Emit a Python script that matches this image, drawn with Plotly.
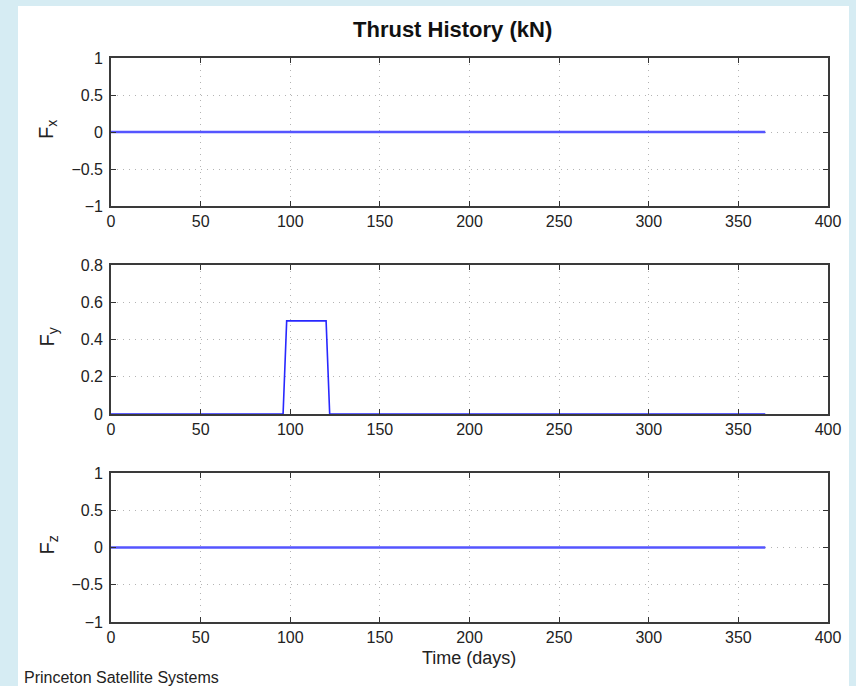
import plotly.graph_objects as go
from plotly.subplots import make_subplots

# ---- data ----
t_days = [0, 96, 98, 120, 122, 365]
fx = [0, 0, 0, 0, 0, 0]
fy = [0, 0, 0.5, 0.5, 0, 0]
fz = [0, 0, 0, 0, 0, 0]

x_ticks = [0, 50, 100, 150, 200, 250, 300, 350, 400]
y_ticks_xz = [-1, -0.5, 0, 0.5, 1]
y_text_xz = ["\u22121", "\u22120.5", "0", "0.5", "1"]
y_ticks_y = [0, 0.2, 0.4, 0.6, 0.8]
y_text_y = ["0", "0.2", "0.4", "0.6", "0.8"]

W, H = 856, 686
L, R, T, B = 111, 828, 58, 622

def py(p):
    return (B - p) / (B - T)

def px(p):
    return (p - L) / (R - L)

fig = make_subplots(rows=3, cols=1)

fig.add_trace(go.Scatter(x=t_days, y=fx, mode="lines",
                         line=dict(color="rgb(85,85,255)", width=2.5)), row=1, col=1)
fig.add_trace(go.Scatter(x=t_days, y=fy, mode="lines",
                         line=dict(color="rgb(40,40,255)", width=1.6)), row=2, col=1)
fig.add_trace(go.Scatter(x=t_days, y=fz, mode="lines",
                         line=dict(color="rgb(85,85,255)", width=2.5)), row=3, col=1)

font = "Liberation Sans, Arial, Helvetica, sans-serif"
domains = [(py(206), py(58)), (py(414), py(265)), (py(622), py(473))]
grid = dict(showgrid=True, gridcolor="#b4b4b4", griddash="1px,5px", gridwidth=1)
axstyle = dict(ticks="inside", ticklen=5, tickcolor="#333", mirror="ticks",
               showline=True, linecolor="#3a3a3a", linewidth=1.6, zeroline=False,
               tickfont=dict(size=16, color="#222", family=font))

for i in range(3):
    r = i + 1
    fig.update_xaxes(range=[0, 400], tickvals=x_ticks, ticktext=[str(v) for v in x_ticks],
                     **axstyle, **grid, row=r, col=1)
    if r == 2:
        fig.update_yaxes(range=[0, 0.8], tickvals=y_ticks_y, ticktext=y_text_y, row=r, col=1)
    else:
        fig.update_yaxes(range=[-1, 1], tickvals=y_ticks_xz, ticktext=y_text_xz, row=r, col=1)
    fig.update_yaxes(domain=list(domains[i]), ticklabelstandoff=3,
                     **axstyle, **grid, row=r, col=1)

labels = ["F<sub>x</sub>", "F<sub>y</sub>", "F<sub>z</sub>"]
centers = [(58 + 206) / 2, (265 + 414) / 2, (473 + 622) / 2]
for lab, c in zip(labels, centers):
    fig.add_annotation(text=lab, xref="paper", yref="paper", x=px(48), y=py(c - 2),
                       xanchor="center", yanchor="middle", textangle=-90, showarrow=False,
                       font=dict(size=20, color="#222", family=font))

fig.add_annotation(text="<b>Thrust History (kN)</b>", xref="paper", yref="paper",
                   x=px(452.5), y=py(29), xanchor="center", yanchor="middle", showarrow=False,
                   font=dict(size=22, color="#111", family=font))
fig.add_annotation(text="Time (days)", xref="paper", yref="paper",
                   x=px(468.5), y=py(658), xanchor="center", yanchor="middle", showarrow=False,
                   font=dict(size=18, color="#222", family=font))
fig.add_annotation(text="Princeton Satellite Systems", xref="paper", yref="paper",
                   x=px(22), y=py(677), xanchor="left", yanchor="middle", showarrow=False,
                   font=dict(size=16, color="#222", family=font))

fig.add_shape(type="rect", xref="paper", yref="paper",
              x0=px(18), x1=px(849), y0=py(686), y1=py(6),
              fillcolor="white", line=dict(width=0), layer="below")

fig.update_layout(width=W, height=H, showlegend=False,
                  margin=dict(l=L, r=W - R, t=T, b=H - B),
                  paper_bgcolor="rgb(214,236,243)", plot_bgcolor="white")

fig.write_html("out.html")
